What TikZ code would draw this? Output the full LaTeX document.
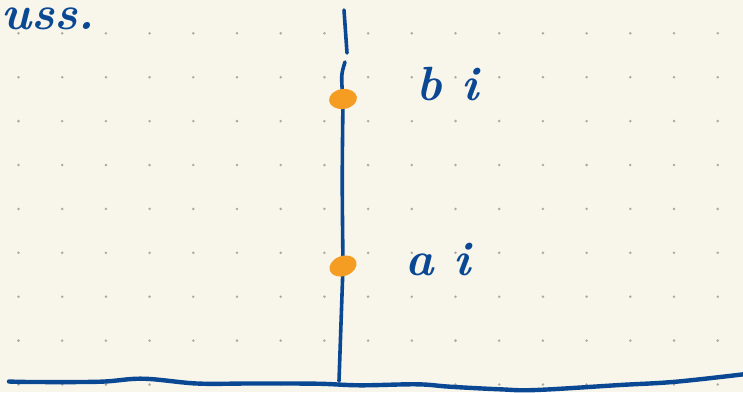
\documentclass[tikz,border=0pt]{standalone}
\usepackage{xcolor}
\usetikzlibrary{positioning,shapes.geometric}

\definecolor{paper}{HTML}{F8F5EA}
\definecolor{ink}{HTML}{0A4894}
\definecolor{marker}{HTML}{F59D23}
\definecolor{griddot}{HTML}{ABABA5}

\begin{document}
\begin{tikzpicture}[
    x=1pt, y=-1pt,
    inkline/.style={draw=ink, line width=3.6pt, line cap=round, line join=round},
    hit/.style={ellipse, fill=marker, inner sep=0pt, minimum width=28pt, minimum height=20pt},
    hand/.style={text=ink, font=\fontsize{48}{48}\selectfont\bfseries\itshape, inner sep=0pt}
]
\clip (0,0) rectangle (743,392);
\fill[paper] (0,0) rectangle (743,392);
% dotted paper
\foreach \i in {0,...,16}
  \foreach \j in {0,...,8}
    \fill[griddot] (18.5+43.7*\i, 33.3+43.9*\j) circle (1.4pt);

% heading at the top edge
\node[hand, anchor=base west] (head) at (1,29) {uss.};

% axis with the two points
\coordinate (top) at (344,10);
\coordinate (gapA) at (347,53);
\coordinate (gapB) at (345,62);
\coordinate (bpos) at (343,99);
\coordinate (apos) at (343,266);
\coordinate (foot) at (339,381);
\draw[inkline] (top) -- (gapA);
\draw[inkline] (gapB) .. controls (341,75) .. (bpos);
\draw[inkline] (bpos) .. controls (342,180) .. (apos) -- (foot);

\draw[inkline, line width=4.4pt] plot[smooth, tension=0.6] coordinates {
  (9,381.5) (33,382) (100,381.7) (143,378.7) (197,383.5) (250,383.5)
  (317,383.7) (360,385.3) (417,384.3) (450,386.7) (500,389.3) (536,390)
  (620,385) (676,381.7) (746,374)};

\node[hit, rotate=8] (bdot) at (bpos) {};
\node[hit, rotate=20] (adot) at (apos) {};

\node[hand, right=73pt of bdot.center, anchor=base west, yshift=-1pt] (blabel) {b i};
\node[hand, right=62pt of adot.center, anchor=base west, yshift=-9pt] (alabel) {a i};
\end{tikzpicture}
\end{document}
